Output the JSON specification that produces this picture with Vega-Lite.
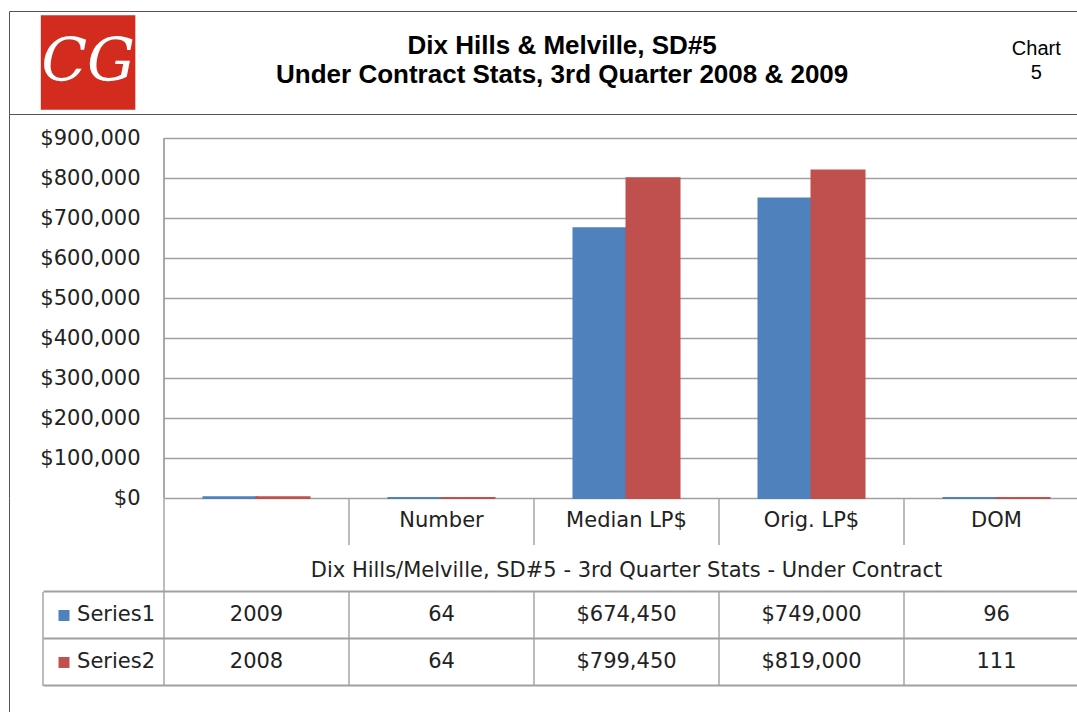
{
  "$schema": "https://vega.github.io/schema/vega-lite/v6.json",
  "background": "white",
  "padding": {"left": 8, "top": 10, "right": 0, "bottom": 0},
  "config": {
    "view": {"stroke": null},
    "font": "DejaVu Sans",
    "text": {"font": "DejaVu Sans", "fontSize": 21, "color": "#222222"}
  },
  "datasets": {
    "stats": [
      {"cat": "Year", "series": "Series1", "value": 2009},
      {"cat": "Number", "series": "Series1", "value": 64},
      {"cat": "Median LP$", "series": "Series1", "value": 674450},
      {"cat": "Orig. LP$", "series": "Series1", "value": 749000},
      {"cat": "DOM", "series": "Series1", "value": 96},
      {"cat": "Year", "series": "Series2", "value": 2008},
      {"cat": "Number", "series": "Series2", "value": 64},
      {"cat": "Median LP$", "series": "Series2", "value": 799450},
      {"cat": "Orig. LP$", "series": "Series2", "value": 819000},
      {"cat": "DOM", "series": "Series2", "value": 111}
    ]
  },
  "columns": 1,
  "bounds": "flush",
  "spacing": 0,
  "concat": [
    {
      "width": 1080,
      "height": 103,
      "view": {"stroke": "#555555", "strokeWidth": 1},
      "data": {"values": [
        {"slot": "logo", "text": "CG"},
        {"slot": "title", "text": "Dix Hills & Melville, SD#5\nUnder Contract Stats, 3rd Quarter 2008 & 2009"},
        {"slot": "chart", "text": "Chart\n5"}
      ]},
      "encoding": {
        "x": {"field": "slot", "type": "nominal", "axis": null,
              "scale": {"type": "point", "domain": ["logo", "title", "chart"], "padding": 0.139, "align": 0.6}}
      },
      "layer": [
        {"transform": [{"filter": "datum.slot == 'logo'"}],
         "mark": {"type": "square", "size": 8930, "color": "#D42B1F", "opacity": 1, "filled": true}},
        {"transform": [{"filter": "datum.slot == 'logo'"}],
         "mark": {"type": "text", "font": "DejaVu Serif", "fontStyle": "italic", "fontSize": 60, "color": "#ffffff"},
         "encoding": {"text": {"field": "text"}}},
        {"transform": [{"filter": "datum.slot == 'title'"}],
         "mark": {"type": "text", "font": "Liberation Sans", "fontWeight": "bold", "fontSize": 26, "lineBreak": "\n", "lineHeight": 29, "dy": -16.5, "color": "#000000"},
         "encoding": {"text": {"field": "text"}}},
        {"transform": [{"filter": "datum.slot == 'chart'"}],
         "mark": {"type": "text", "font": "Liberation Sans", "fontSize": 20, "lineBreak": "\n", "lineHeight": 24, "dy": -13.5, "color": "#000000"},
         "encoding": {"text": {"field": "text"}}}
      ]
    },
    {
      "width": 1080,
      "height": 384,
      "data": {"name": "stats"},
      "encoding": {
        "x": {"field": "cat", "type": "nominal", "sort": null,
              "scale": {"domain": ["Year", "Number", "Median LP$", "Orig. LP$", "DOM"], "paddingInner": 0, "paddingOuter": 0.418919, "align": 1}, "axis": null}
      },
      "layer": [
        {
          "transform": [{"filter": "datum.cat == 'Year' && datum.series == 'Series1'"}],
          "mark": {"type": "rule", "color": "#8c8c8c", "strokeWidth": 1.5},
          "encoding": {
            "x": {"datum": "Year", "type": "nominal", "bandPosition": 0},
            "y": {"datum": 0, "type": "quantitative", "scale": {"domain": [0, 960000], "nice": false},
                  "axis": {"orient": "left", "offset": 0, "domain": true, "domainColor": "#555555", "domainWidth": 1, "labels": false, "ticks": false, "grid": false, "title": null}},
            "y2": {"datum": 900000}
          }
        },
        {
          "transform": [{"filter": "datum.cat == 'Year' && datum.series == 'Series1'"}],
          "mark": {"type": "rule", "opacity": 0},
          "encoding": {
            "x": {"datum": "Year", "type": "nominal", "bandPosition": 0},
            "y": {"datum": 0, "type": "quantitative", "scale": {"domain": [0, 960000], "nice": false},
                  "axis": {"orient": "left", "offset": -155, "values": [0, 100000, 200000, 300000, 400000, 500000, 600000, 700000, 800000, 900000],
                           "domain": false, "labels": false, "grid": false, "title": null,
                           "ticks": true, "tickSize": -925, "tickColor": "#a0a0a0", "tickWidth": 1.5}},
            "y2": {"datum": 900000}
          }
        },
        {
          "mark": {"type": "bar", "strokeWidth": 2},
          "encoding": {
            "xOffset": {"field": "series", "type": "nominal",
                        "scale": {"domain": ["Series1", "Series2"], "paddingInner": 0, "paddingOuter": 0.745}},
            "y": {"field": "value", "type": "quantitative", "scale": {"domain": [0, 960000], "nice": false},
                  "axis": {"orient": "left", "offset": -155, "values": [0, 100000, 200000, 300000, 400000, 500000, 600000, 700000, 800000, 900000],
                           "format": "$,.0f", "labelFont": "DejaVu Sans", "labelFontSize": 21, "labelColor": "#222222",
                           "labelPadding": 24, "ticks": false, "domain": false, "grid": false, "title": null}},
            "color": {"field": "series", "type": "nominal", "scale": {"domain": ["Series1", "Series2"], "range": ["#4F81BD", "#C0504D"]}, "legend": null},
            "stroke": {"field": "series", "type": "nominal", "scale": {"domain": ["Series1", "Series2"], "range": ["#4F81BD", "#C0504D"]}, "legend": null}
          }
        }
      ],
      "resolve": {"axis": {"y": "independent"}}
    },
    {
      "width": 1080,
      "height": 214,
      "data": {"name": "stats"},
      "encoding": {
        "x": {"field": "cat", "type": "nominal", "sort": null,
              "scale": {"domain": ["Year", "Number", "Median LP$", "Orig. LP$", "DOM"], "paddingInner": 0, "paddingOuter": 0.418919, "align": 1}, "axis": null}
      },
      "layer": [
        {
          "mark": {"type": "tick", "orient": "vertical", "size": 47, "thickness": 2, "color": "#a0a0a0"},
          "encoding": {
            "x": {"field": "cat", "type": "nominal", "bandPosition": 0},
            "y": {"field": "series", "type": "nominal",
                  "scale": {"domain": ["cat", "title", "Series1", "Series2"], "paddingInner": 0, "paddingOuter": 0.277, "align": 0},
                  "axis": {"orient": "left", "offset": 0, "domain": true, "domainColor": "#555555", "domainWidth": 1, "labels": false, "ticks": false, "grid": false, "title": null}}
          }
        },
        {
          "transform": [{"filter": "datum.series == 'Series1'"}],
          "mark": {"type": "tick", "orient": "vertical", "size": 47, "thickness": 2, "color": "#a0a0a0"},
          "encoding": {
            "x": {"field": "cat", "type": "nominal", "bandPosition": 0},
            "y": {"datum": "cat", "type": "nominal",
                  "axis": {"orient": "left", "offset": -34, "bandPosition": 1, "domain": false, "labels": false, "title": null, "grid": false,
                           "ticks": true, "tickSize": -1046, "tickWidth": 2,
                           "tickColor": {"condition": {"test": "datum.value == 'cat'", "value": "transparent"}, "value": "#a0a0a0"}}}
          }
        },
        {
          "transform": [{"filter": "datum.cat == 'Year' && datum.series == 'Series1'"}],
          "mark": {"type": "tick", "orient": "vertical", "size": 47, "thickness": 2, "color": "#a0a0a0"},
          "encoding": {
            "x": {"datum": "Year", "type": "nominal", "bandPosition": 0},
            "y": {"datum": "title", "type": "nominal", "axis": null}
          }
        },
        {
          "transform": [{"filter": "datum.cat == 'Year'"}],
          "mark": {"type": "tick", "orient": "vertical", "size": 47, "thickness": 2, "color": "#a0a0a0", "xOffset": -121},
          "encoding": {
            "x": {"datum": "Year", "type": "nominal", "bandPosition": 0},
            "y": {"field": "series", "type": "nominal", "axis": null}
          }
        },
        {
          "transform": [{"filter": "datum.cat == 'Year'"}],
          "mark": {"type": "square", "size": 121, "opacity": 1, "filled": true, "xOffset": -100},
          "encoding": {
            "x": {"datum": "Year", "type": "nominal", "bandPosition": 0},
            "y": {"field": "series", "type": "nominal", "axis": null},
            "color": {"field": "series", "type": "nominal", "scale": {"domain": ["Series1", "Series2"], "range": ["#4F81BD", "#C0504D"]}, "legend": null}
          }
        },
        {
          "transform": [{"filter": "datum.cat == 'Year'"}],
          "mark": {"type": "text", "align": "right", "xOffset": -9},
          "encoding": {
            "x": {"datum": "Year", "type": "nominal", "bandPosition": 0},
            "y": {"field": "series", "type": "nominal", "axis": null},
            "text": {"field": "series"}
          }
        },
        {
          "transform": [{"filter": "datum.series == 'Series1'"}, {"calculate": "datum.cat == 'Year' ? '' : datum.cat", "as": "label"}],
          "mark": {"type": "text"},
          "encoding": {
            "y": {"datum": "cat", "type": "nominal", "axis": null},
            "text": {"field": "label"}
          }
        },
        {
          "data": {"values": [{"text": "Dix Hills/Melville, SD#5 - 3rd Quarter Stats - Under Contract"}]},
          "mark": {"type": "text", "dy": 3},
          "encoding": {
            "x": {"datum": "Median LP$", "type": "nominal"},
            "y": {"datum": "title", "type": "nominal", "axis": null},
            "text": {"field": "text"}
          }
        },
        {
          "transform": [{"calculate": "(datum.cat == 'Median LP$' || datum.cat == 'Orig. LP$') ? format(datum.value, '$,') : format(datum.value, 'd')", "as": "label"}],
          "mark": {"type": "text"},
          "encoding": {
            "y": {"field": "series", "type": "nominal", "axis": null},
            "text": {"field": "label"}
          }
        }
      ],
      "resolve": {"axis": {"y": "independent"}}
    }
  ]
}
